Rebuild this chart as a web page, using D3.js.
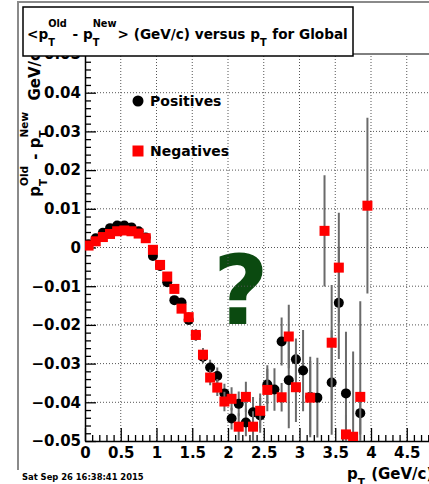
<!DOCTYPE html>
<html><head><meta charset="utf-8">
<script src="https://cdn.jsdelivr.net/npm/d3@7"></script>
<style>
html,body{margin:0;padding:0;background:#fff;}
svg{display:block;}
text{font-family:"DejaVu Sans",sans-serif;font-weight:bold;fill:#000;white-space:pre;}
</style></head><body>
<svg id="c" width="429" height="484"></svg>
<script>
// Mean momentum shift <pT(old) - pT(new)> per pT bin (GeV/c)
const posPt  = [0.05,0.15,0.25,0.35,0.45,0.55,0.65,0.75,0.85,0.95,1.05,1.15,1.25,1.35,1.45,1.55,1.65,1.75,1.85,1.95,2.05,2.15,2.25,2.35,2.45,2.55,2.65,2.75,2.85,2.95,3.05,3.15,3.25,3.45,3.55,3.65,3.85];
const posVal = [0.0008,0.0024,0.0038,0.0050,0.0057,0.0057,0.0052,0.0042,0.0026,-0.0022,-0.0048,-0.0090,-0.0136,-0.0142,-0.0187,-0.0226,-0.0282,-0.0310,-0.0332,-0.0377,-0.0442,-0.0404,-0.0452,-0.0426,-0.0434,-0.0354,-0.0367,-0.0243,-0.0343,-0.0289,-0.0318,-0.0386,-0.0388,-0.0349,-0.0143,-0.0377,-0.0428];
const posErr = [0.0003,0.0003,0.0003,0.0003,0.0003,0.0004,0.0004,0.0005,0.0005,0.0006,0.0007,0.0008,0.0010,0.0011,0.0013,0.0015,0.0017,0.0020,0.0022,0.0025,0.0028,0.0032,0.0036,0.0040,0.0045,0.0050,0.0055,0.0062,0.0124,0.0054,0.0105,0.0104,0.0103,0.0135,0.0145,0.0159,0.0055];

const negPt  = [0.05,0.15,0.25,0.35,0.45,0.55,0.65,0.75,0.85,0.95,1.05,1.15,1.25,1.35,1.45,1.55,1.65,1.75,1.85,1.95,2.05,2.15,2.25,2.35,2.45,2.55,2.75,2.85,2.95,3.15,3.35,3.45,3.55,3.65,3.75,3.85,3.95];
const negVal = [0.0005,0.0016,0.0027,0.0035,0.0042,0.0044,0.0042,0.0036,0.0024,-0.0006,-0.0045,-0.0075,-0.0107,-0.0158,-0.0180,-0.0226,-0.0277,-0.0336,-0.0362,-0.0398,-0.0391,-0.0463,-0.0386,-0.0463,-0.0422,-0.0368,-0.0387,-0.0230,-0.0361,-0.0388,0.0043,-0.0246,-0.0052,-0.0483,-0.0489,-0.0386,0.0108];
const negErr = [0.0003,0.0003,0.0003,0.0003,0.0003,0.0004,0.0004,0.0005,0.0005,0.0006,0.0007,0.0008,0.0010,0.0011,0.0013,0.0015,0.0017,0.0020,0.0022,0.0025,0.0030,0.0035,0.0039,0.0040,0.0045,0.0055,0.0037,0.0082,0.0090,0.0095,0.0144,0.0149,0.0142,0.0050,0.0220,0.0247,0.0227];

const yTicks = [-0.05,-0.04,-0.03,-0.02,-0.01,0,0.01,0.02,0.03,0.04,0.05];
const xTicks = [0,0.5,1,1.5,2,2.5,3,3.5,4,4.5,5];
const seriesNames = ["Positives","Negatives"];
const stamp = "Sat Sep 26 16:38:41 2015";

const svg = d3.select("#c");
const x = d3.scaleLinear().domain([0,5]).range([85,442.5]);
const y = d3.scaleLinear().domain([-0.05,0.05]).range([441,54]);
const X0 = x.range()[0], X1 = x.range()[1], Y0 = y.range()[0], Y1 = y.range()[1];

// canvas border
svg.append("path").attr("d",`M18,470V2H429`).attr("fill","none").attr("stroke","#8a8a8a").attr("stroke-width",2);

// background "?" mark
svg.append("text").attr("x",213).attr("y",324).style("font-size","96px").style("fill","#0b4a10").text("?");

// grid
const grid = svg.append("g").attr("stroke","#555").attr("stroke-width",1).attr("stroke-dasharray","1,2");
grid.selectAll("line.v").data(xTicks.filter(d=>d>0&&d<5)).join("line")
  .attr("x1",d=>x(d)).attr("x2",d=>x(d)).attr("y1",Y0).attr("y2",Y1);
grid.selectAll("line.h").data(yTicks.filter(d=>d!==-0.05&&d!==0.05)).join("line")
  .attr("x1",X0).attr("x2",X1).attr("y1",d=>y(d)).attr("y2",d=>y(d));

// frame top/right
svg.append("path").attr("d",`M${X0},${Y1}H${X1}V${Y0}`).attr("fill","none").attr("stroke","#000").attr("stroke-width",1);

// axes
const fmtY = d => Math.abs(d)<1e-9 ? "0" : d3.format(".2f")(d);
svg.append("g").attr("transform",`translate(${X0},0)`)
  .call(d3.axisLeft(y).tickValues(yTicks).tickSizeInner(-11).tickSizeOuter(0).tickPadding(4).tickFormat(fmtY));
const yMinor = d3.range(-50,51,2).filter(i=>i%10!==0).map(i=>i/1000);
svg.append("g").attr("transform",`translate(${X0},0)`)
  .call(d3.axisLeft(y).tickValues(yMinor).tickSize(-6).tickFormat(""))
  .select(".domain").remove();
svg.append("g").attr("transform",`translate(0,${Y0})`)
  .call(d3.axisBottom(x).tickValues(xTicks).tickSizeInner(-13).tickSizeOuter(0).tickPadding(6).tickFormat(d3.format("~g")));
const xMinor = d3.range(0,51).filter(i=>i%5!==0).map(i=>i/10);
svg.append("g").attr("transform",`translate(0,${Y0})`)
  .call(d3.axisBottom(x).tickValues(xMinor).tickSize(-6).tickFormat(""))
  .select(".domain").remove();
svg.selectAll(".tick text").style("font-size","15px").attr("font-family",null).attr("font-size",null);
svg.selectAll(".domain").attr("stroke","#000").attr("stroke-width",1.5);
svg.selectAll(".tick line").attr("stroke","#000").attr("stroke-width",1.3);

// data
svg.append("clipPath").attr("id","fr").append("rect").attr("x",X0).attr("y",Y1).attr("width",X1-X0).attr("height",Y0-Y1);
const plot = svg.append("g").attr("clip-path","url(#fr)");
function errBars(pt,val,err){
  plot.append("g").selectAll("line").data(pt).join("line")
    .attr("x1",(d)=>x(d)).attr("x2",(d)=>x(d))
    .attr("y1",(d,i)=>y(val[i]+err[i])).attr("y2",(d,i)=>y(val[i]-err[i]))
    .attr("stroke","#6a6a6a").attr("stroke-width",2);
}
errBars(posPt,posVal,posErr);
plot.append("g").selectAll("circle").data(posPt).join("circle")
  .attr("cx",d=>x(d)).attr("cy",(d,i)=>y(posVal[i])).attr("r",5).attr("fill","#000");
errBars(negPt,negVal,negErr);
const sq = 10;
plot.append("g").selectAll("rect").data(negPt).join("rect")
  .attr("x",d=>x(d)-sq/2).attr("y",(d,i)=>y(negVal[i])-sq/2).attr("width",sq).attr("height",sq).attr("fill","#ff0000");

// legend
svg.append("circle").attr("cx",138).attr("cy",101).attr("r",5.5).attr("fill","#000");
svg.append("rect").attr("x",132.5).attr("y",145.5).attr("width",11).attr("height",11).attr("fill","#ff0000");
svg.append("text").attr("x",150).attr("y",106).style("font-size","14px").text(seriesNames[0]);
svg.append("text").attr("x",150).attr("y",156).style("font-size","14px").text(seriesNames[1]);

// text with sub/superscripts laid out piece by piece
function rich(g, segs, size, subOff, supOff, small){
  let cx = 0;
  segs.forEach(s=>{
    if (typeof s === "string"){
      const t = g.append("text").attr("x",cx).attr("y",0).style("font-size",size+"px").text(s);
      cx += t.node().getComputedTextLength();
    } else {
      let w = 0;
      if (s.sub){ const t=g.append("text").attr("x",cx).attr("y",subOff).style("font-size",small+"px").text(s.sub); w=Math.max(w,t.node().getComputedTextLength()); }
      if (s.sup){ const t=g.append("text").attr("x",cx).attr("y",supOff).style("font-size",small+"px").text(s.sup); w=Math.max(w,t.node().getComputedTextLength()); }
      cx += w + 1;
    }
  });
  return cx;
}

// y-axis title
const yt = svg.append("g");
const ytw = rich(yt, ["p",{sub:"T",sup:"Old"}," - p",{sub:"T",sup:"New"},"  GeV/c"], 15, 7, -12, 10.5);
yt.attr("transform",`translate(40,${Y1+ytw-2}) rotate(-90)`);

// x-axis title
const xt = svg.append("g").attr("transform","translate(347,479)");
rich(xt, ["p",{sub:"T"}," (GeV/c)"], 15, 7, -12, 10.5);

// title box
svg.append("rect").attr("x",23).attr("y",7).attr("width",330).attr("height",49).attr("fill","#fff").attr("stroke","#000").attr("stroke-width",1.5);
const tt = svg.append("g").attr("transform","translate(27,39.3)");
rich(tt, ["<p",{sub:"T",sup:"Old"}," - p",{sub:"T",sup:"New"},"> (GeV/c) versus p",{sub:"T"}," for Global"], 13.6, 7, -12.5, 9.8);

// date stamp
svg.append("text").attr("x",22).attr("y",480).style("font-size","8.4px").text(stamp);
</script>
</body></html>
